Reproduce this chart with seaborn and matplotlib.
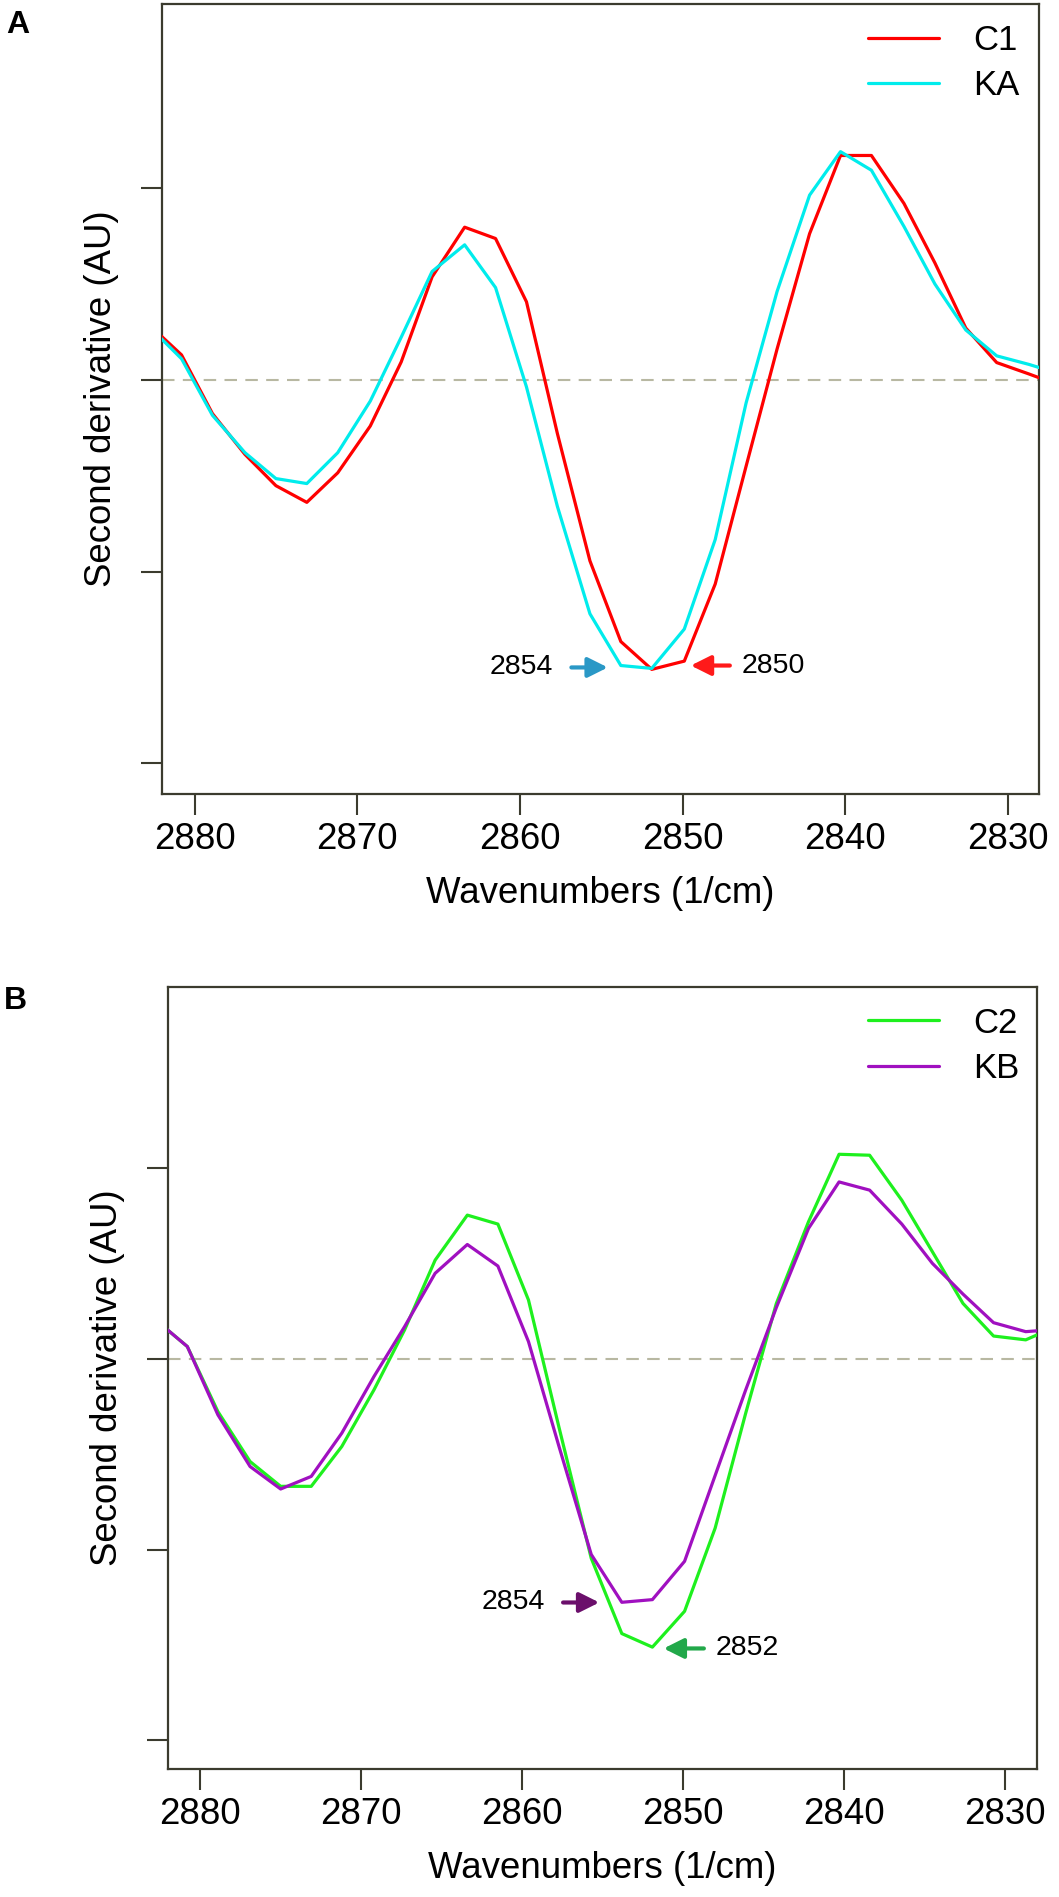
import pandas as pd
import seaborn as sns
import matplotlib.pyplot as plt
from matplotlib.lines import Line2D

# wavenumber grid (1/cm)
wavenumbers = [2882.7, 2880.8, 2878.9, 2876.9, 2875.0, 2873.1, 2871.2, 2869.2, 2867.3, 2865.4,
               2863.4, 2861.5, 2859.6, 2857.7, 2855.7, 2853.8, 2851.9, 2849.9, 2848.0, 2846.1,
               2844.2, 2842.2, 2840.3, 2838.4, 2836.4, 2834.5, 2832.6, 2830.7, 2828.7, 2826.8]

# panel A (arbitrary units, one tick = 1)
c1 = [0.28, 0.13, -0.176, -0.389, -0.552, -0.639, -0.485, -0.241, 0.093, 0.537,
      0.796, 0.737, 0.407, -0.28, -0.944, -1.365, -1.51, -1.467, -1.065, -0.45,
      0.16, 0.762, 1.17, 1.17, 0.92, 0.61, 0.27, 0.09, 0.03, -0.03]
ka = [0.27, 0.11, -0.185, -0.38, -0.515, -0.541, -0.38, -0.111, 0.222, 0.565,
      0.704, 0.481, -0.037, -0.66, -1.22, -1.49, -1.505, -1.30, -0.833, -0.12,
      0.46, 0.963, 1.19, 1.093, 0.80, 0.50, 0.26, 0.125, 0.08, 0.03]

# panel B
c2 = [0.20, 0.065, -0.276, -0.538, -0.668, -0.668, -0.459, -0.162, 0.152, 0.518,
      0.754, 0.707, 0.309, -0.36, -1.045, -1.44, -1.511, -1.323, -0.887, -0.284,
      0.29, 0.719, 1.073, 1.068, 0.832, 0.562, 0.291, 0.12, 0.10, 0.17]
kb = [0.20, 0.065, -0.293, -0.564, -0.682, -0.616, -0.389, -0.092, 0.169, 0.449,
      0.600, 0.487, 0.091, -0.46, -1.025, -1.276, -1.262, -1.061, -0.611, -0.162,
      0.269, 0.684, 0.928, 0.885, 0.707, 0.501, 0.340, 0.190, 0.143, 0.155]

sns.set_style('ticks')
plt.rcParams['font.family'] = ['Liberation Sans', 'DejaVu Sans']
plt.rcParams['text.color'] = 'black'
plt.rcParams['axes.labelcolor'] = 'black'

FRAME = '#3b3b2e'
W, H = 1059, 1897


def draw_panel(ax, names, series, colors, xlim, ylim, marks):
    df = pd.DataFrame({
        'wn': wavenumbers * 2,
        'value': series[0] + series[1],
        'sample': [names[0]] * len(wavenumbers) + [names[1]] * len(wavenumbers),
    })
    ax.axhline(0, color='#b8b8a2', lw=1.5, ls=(0, (6, 4)), zorder=1)
    sns.lineplot(data=df, x='wn', y='value', hue='sample', hue_order=names,
                 palette=dict(zip(names, colors)), lw=2.3, sort=False,
                 legend=False, ax=ax, zorder=3)
    ax.set_xlim(*xlim)
    ax.set_ylim(*ylim)
    ax.set_xticks([2880, 2870, 2860, 2850, 2840, 2830])
    ax.set_yticks([-2, -1, 0, 1])
    ax.tick_params(axis='both', direction='out', length=15, width=1.5, color=FRAME,
                   labelcolor='black', labelsize=26.4, pad=5)
    ax.tick_params(axis='y', labelleft=False)
    for sp in ax.spines.values():
        sp.set_color(FRAME)
        sp.set_linewidth(1.6)
    ax.set_xlabel('Wavenumbers (1/cm)', fontsize=26.4, labelpad=14)
    ax.set_ylabel('Second derivative (AU)', fontsize=26.4, labelpad=16)

    handles = [Line2D([], [], color=c, lw=2.3) for c in colors]
    ax.legend(handles, names, loc='upper left', bbox_to_anchor=(0.805, 0.975),
              frameon=False, fontsize=25, handlelength=2.05, handletextpad=0.98,
              labelspacing=0.35, borderpad=0, borderaxespad=0)

    # arrows pointing at the minima
    for label, y, x_from, x_to, col, side in marks:
        ax.annotate('', xy=(x_to, y), xytext=(x_from, y),
                    arrowprops=dict(arrowstyle='-|>,head_length=0.6,head_width=0.3',
                                    lw=3, color=col, mutation_scale=20,
                                    shrinkA=0, shrinkB=0))
        if side == 'left':
            ax.text(x_from + 1.1, y, label, ha='right', va='center', fontsize=20.5)
        else:
            ax.text(x_from - 0.75, y, label, ha='left', va='center', fontsize=20.5)


fig = plt.figure(figsize=(W / 100, H / 100), dpi=100)
ax_a = fig.add_axes([162 / W, 1 - 794 / H, 877 / W, 790 / H])
ax_b = fig.add_axes([168 / W, 1 - 1769 / H, 869 / W, 782 / H])

draw_panel(ax_a, ['C1', 'KA'], [c1, ka], ['#ff0000', '#00ecec'],
           (2882.0, 2828.1), (-2.16, 1.96),
           [('2854', -1.50, 2856.84, 2854.6, '#2a98c6', 'left'),
            ('2850', -1.49, 2847.1, 2849.5, '#ff1a1a', 'right')])
draw_panel(ax_b, ['C2', 'KB'], [c2, kb], ['#1ef01e', '#a010c0'],
           (2882.0, 2828.0), (-2.15, 1.95),
           [('2854', -1.277, 2857.45, 2855.2, '#6b0f6b', 'left'),
            ('2852', -1.518, 2848.7, 2851.2, '#22a84a', 'right')])

fig.text(6 / W, 1 - 33 / H, 'A', fontsize=23, fontweight='bold', va='baseline', color='black')
fig.text(4 / W, 1 - 1009 / H, 'B', fontsize=23, fontweight='bold', va='baseline', color='black')

fig.savefig('out.png', dpi=100)
